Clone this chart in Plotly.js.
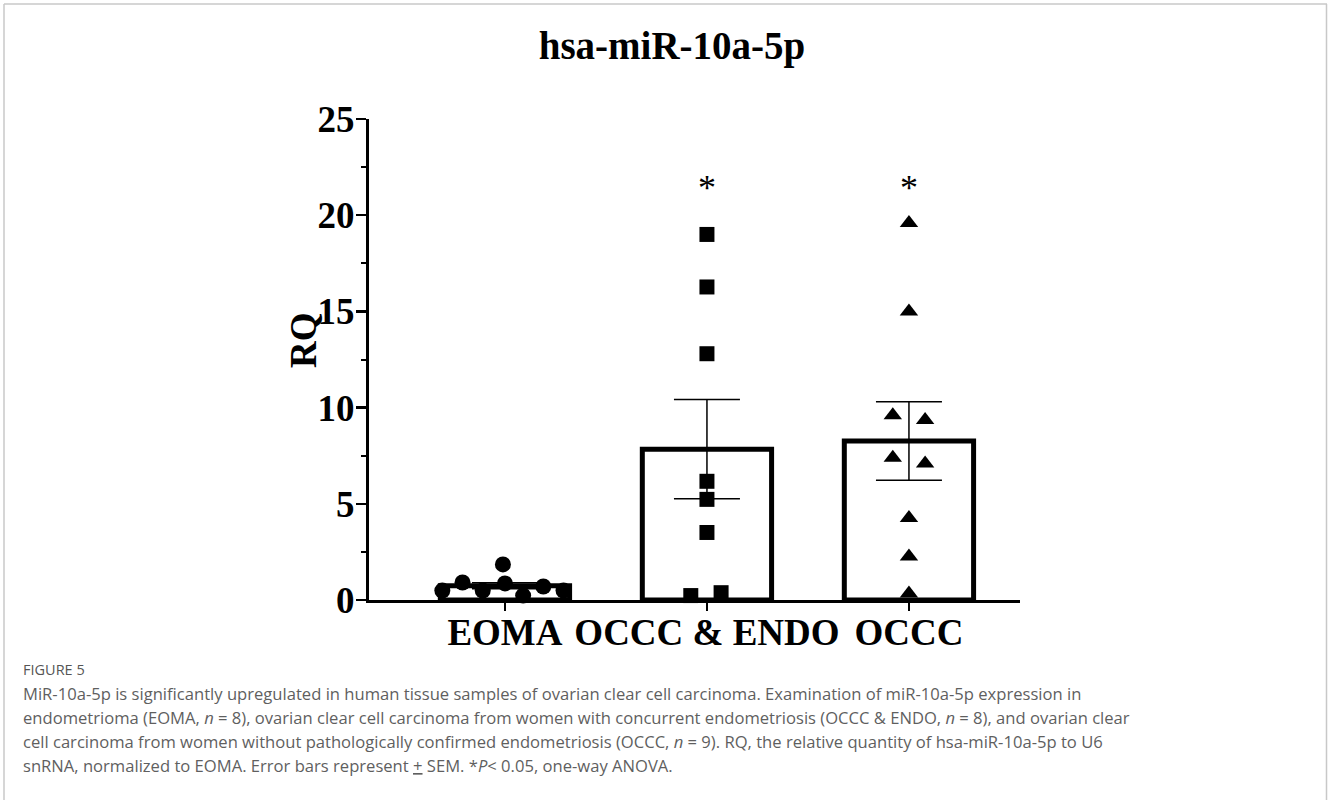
<!DOCTYPE html>
<html>
<head>
<meta charset="utf-8">
<script src="https://cdn.plot.ly/plotly-3.0.1.min.js"></script>
<style>
  html, body { margin: 0; padding: 0; background: #fff; }
  #chart { width: 1328px; height: 800px; }
</style>
</head>
<body>
<div id="chart"></div>
<script>
// ---------- data ----------
const categories = ["EOMA", "OCCC & ENDO", "OCCC"];
const groupMeans = [0.74, 7.84, 8.26];
const groupSEM = [0.16, 2.58, 2.04];
const eomaValues = [0.49, 0.91, 0.49, 1.85, 0.86, 0.23, 0.70, 0.49];
const occcEndoValues = [19.0, 16.27, 12.8, 6.17, 5.23, 3.51, 0.23, 0.38];
const occcValues = [19.6, 15.0, 9.6, 9.35, 7.39, 7.1, 4.26, 2.26, 0.34];
const significance = ["", "*", "*"];
const chartTitle = "hsa-miR-10a-5p";
const yTitle = "RQ";
const captionHead = "FIGURE 5";
const captionLines = [
  "MiR-10a-5p is significantly upregulated in human tissue samples of ovarian clear cell carcinoma. Examination of miR-10a-5p expression in",
  "endometrioma (EOMA, <i>n</i> = 8), ovarian clear cell carcinoma from women with concurrent endometriosis (OCCC & ENDO, <i>n</i> = 8), and ovarian clear",
  "cell carcinoma from women without pathologically confirmed endometriosis (OCCC, <i>n</i> = 9). RQ, the relative quantity of hsa-miR-10a-5p to U6",
  "snRNA, normalized to EOMA. Error bars represent <u>+</u> SEM. *<i>P</i>< 0.05, one-way ANOVA."
];

// ---------- layout helpers (positions / styles) ----------
const jitter = {
  eoma: [-0.31, -0.21, -0.11, -0.01, 0.0, 0.09, 0.19, 0.29],
  occcEndo: [0, 0, 0, 0, 0, 0, -0.08, 0.07],
  occc: [0, 0, -0.08, 0.08, -0.08, 0.08, 0, 0, 0]
};
const M = { l: 369, r: 308, t: 119, b: 200 };
const PW = 1328 - M.l - M.r, PH = 800 - M.t - M.b;
const px2x = X => (X - M.l) / PW;
const px2y = Y => (800 - M.b - Y) / PH;
const xRange = [-0.673, -0.673 + PW / 202];
const serif = "Liberation Serif, Times New Roman, serif";
const sans = "Open Sans, Noto Sans, sans-serif";

const barTrace = {
  type: "bar",
  x: categories.map((c, i) => i),
  y: groupMeans,
  width: 0.64,
  marker: { color: "#ffffff", line: { color: "#000000", width: 5 } },
  error_y: { type: "data", array: groupSEM, visible: true, color: "#000000", thickness: 1.5, width: 33 },
  hoverinfo: "skip",
  showlegend: false
};

function pts(values, idx, offs, symbol, size) {
  return {
    type: "scatter", mode: "markers",
    x: values.map((v, k) => idx + offs[k]),
    y: values,
    marker: { symbol: symbol, size: size, color: "#000000", line: { width: 0 } },
    cliponaxis: false,
    showlegend: false
  };
}

const traces = [
  barTrace,
  pts(eomaValues, 0, jitter.eoma, "circle", 16),
  pts(occcEndoValues, 1, jitter.occcEndo, "square", 15),
  pts(occcValues, 2, jitter.occc, "triangle-up", 16)
];

const annotations = [];
significance.forEach((s, i) => {
  if (s) annotations.push({
    xref: "x", yref: "y", x: i, y: 21.4, text: s, showarrow: false,
    font: { family: serif, size: 36, color: "#000" }, xanchor: "center", yanchor: "middle"
  });
});
annotations.push({
  xref: "paper", yref: "paper", x: px2x(303), y: px2y(340), text: "<b>" + yTitle + "</b>",
  textangle: -90, showarrow: false, font: { family: serif, size: 37, color: "#000" },
  xanchor: "center", yanchor: "middle"
});
annotations.push({
  xref: "paper", yref: "paper", x: px2x(21), y: px2y(669), text: captionHead,
  showarrow: false, font: { family: sans, size: 14.5, color: "#555555" }, xanchor: "left", yanchor: "middle"
});
const capY = [693, 717, 741, 765];
captionLines.forEach((t, i) => annotations.push({
  xref: "paper", yref: "paper", x: px2x(21), y: px2y(capY[i]), text: t,
  showarrow: false, font: { family: sans, size: 16.6, color: "#5f5f5f" }, xanchor: "left", yanchor: "middle"
}));

const border = "#c8c8c8";
const shapes = [
  { type: "line", xref: "paper", yref: "paper", x0: px2x(4), x1: px2x(4), y0: px2y(4), y1: px2y(800), line: { color: border, width: 1.5 } },
  { type: "line", xref: "paper", yref: "paper", x0: px2x(4), x1: px2x(1327), y0: px2y(4), y1: px2y(4), line: { color: border, width: 1.5 } },
  { type: "line", xref: "paper", yref: "paper", x0: px2x(1326.5), x1: px2x(1326.5), y0: px2y(4), y1: px2y(800), line: { color: border, width: 1.5 } }
];

const layout = {
  width: 1328, height: 800,
  margin: M,
  paper_bgcolor: "#ffffff", plot_bgcolor: "#ffffff",
  title: {
    text: "<b>" + chartTitle + "</b>", font: { family: serif, size: 39, color: "#000" },
    xref: "container", yref: "container", x: 672 / 1328, y: 1 - 45 / 800, xanchor: "center", yanchor: "middle"
  },
  xaxis: {
    range: xRange, tickvals: [0, 1, 2], ticktext: categories,
    showline: true, linewidth: 3, linecolor: "#000", ticks: "outside", ticklen: 8, tickwidth: 2, tickcolor: "#000",
    ticklabelstandoff: -10,
    showgrid: false, zeroline: false, fixedrange: true,
    tickfont: { family: serif, size: 37, color: "#000", weight: "bold" }
  },
  yaxis: {
    range: [0, 25], tickvals: [0, 5, 10, 15, 20, 25],
    showline: true, linewidth: 3, linecolor: "#000", ticks: "outside", ticklen: 10, tickwidth: 2.5, tickcolor: "#000",
    ticklabelstandoff: -6,
    minor: { tickvals: [2.5, 7.5, 12.5, 17.5, 22.5], ticks: "outside", ticklen: 5, tickwidth: 2, tickcolor: "#000", showgrid: false },
    showgrid: false, zeroline: false, fixedrange: true,
    tickfont: { family: serif, size: 37, color: "#000", weight: "bold" }
  },
  bargap: 0,
  annotations: annotations,
  shapes: shapes,
  showlegend: false
};

Plotly.newPlot("chart", traces, layout, { staticPlot: true, displayModeBar: false });
</script>
</body>
</html>
